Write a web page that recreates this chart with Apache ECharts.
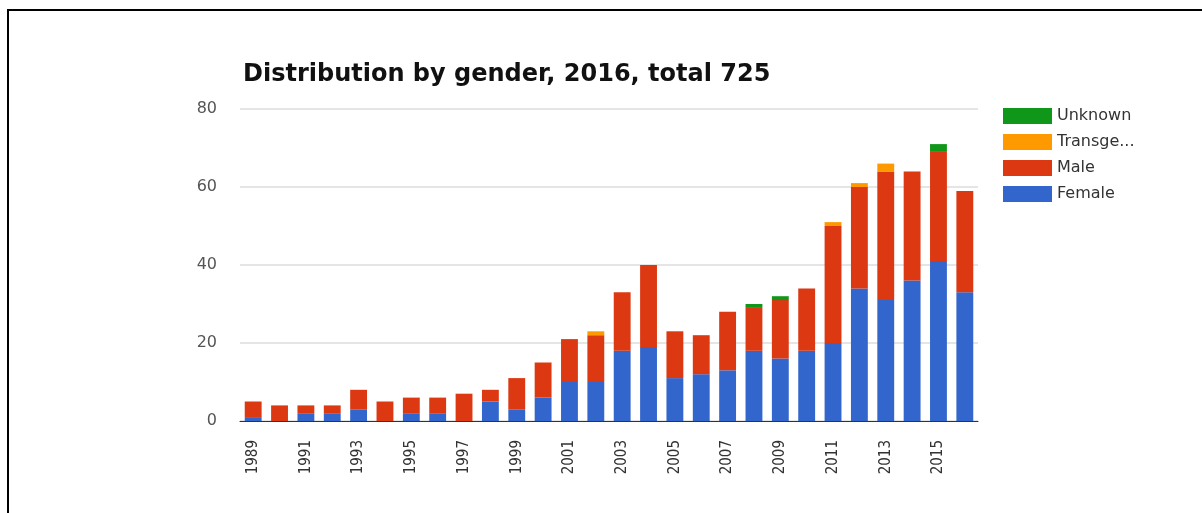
<!DOCTYPE html>
<html lang="en">
<head>
    <meta charset="UTF-8">
    <title>Distribution by gender</title>
    <style>
        html, body { margin: 0; padding: 0; background: #fff; }
        #chart { width: 1202px; height: 513px; }
    </style>
</head>
<body>
    <div id="chart"></div>
    <script src="https://cdn.jsdelivr.net/npm/echarts@6/dist/echarts.min.js"></script>
    <script>
        // years on the x axis
        let years = ['1989', '1990', '1991', '1992', '1993', '1994', '1995', '1996', '1997', '1998',
                     '1999', '2000', '2001', '2002', '2003', '2004', '2005', '2006', '2007', '2008',
                     '2009', '2010', '2011', '2012', '2013', '2014', '2015', '2016'];

        // counts per gender
        let female      = [1, 0, 2, 2, 3, 0, 2, 2, 0, 5, 3, 6, 10, 10, 18, 19, 11, 12, 13, 18, 16, 18, 20, 34, 31, 36, 41, 33];
        let male        = [4, 4, 2, 2, 5, 5, 4, 4, 7, 3, 8, 9, 11, 12, 15, 21, 12, 10, 15, 11, 15, 16, 30, 26, 33, 28, 28, 26];
        let transgender = [0, 0, 0, 0, 0, 0, 0, 0, 0, 0, 0, 0, 0, 1, 0, 0, 0, 0, 0, 0, 0, 0, 1, 1, 2, 0, 0, 0];
        let unknown     = [0, 0, 0, 0, 0, 0, 0, 0, 0, 0, 0, 0, 0, 0, 0, 0, 0, 0, 0, 1, 1, 0, 0, 0, 0, 0, 2, 0];

        let yTicks = [0, 20, 40, 60, 80];

        let myChart = echarts.init(document.getElementById('chart'));

        function bar(name, data, color) {
            return {
                name: name,
                type: 'bar',
                stack: 'total',
                data: data,
                barCategoryGap: '36%',
                itemStyle: { color: color },
                emphasis: { disabled: true }
            };
        }

        let chartOption = {
            animation: false,
            title: {
                text: 'Distribution by gender, 2016, total 725',
                left: 238,
                top: 58,
                textStyle: {
                    fontFamily: 'DejaVu Sans',
                    fontWeight: 'bold',
                    fontSize: 24,
                    color: '#111'
                }
            },
            graphic: [{
                type: 'rect',
                shape: { x: 8, y: 10, width: 1200, height: 520 },
                style: { fill: 'none', stroke: '#000', lineWidth: 2 }
            }],
            legend: {
                orient: 'vertical',
                left: 1003,
                top: 108,
                padding: 0,
                itemWidth: 49,
                itemHeight: 16,
                itemGap: 10,
                icon: 'rect',
                data: ['Unknown', 'Transgender', 'Male', 'Female'],
                formatter: function(n) {
                    return n.length > 8 ? n.slice(0, 7) + '...' : n;
                },
                textStyle: {
                    fontFamily: 'DejaVu Sans',
                    fontSize: 16,
                    color: '#333'
                }
            },
            grid: {
                left: 240,
                right: 224,
                top: 109,
                bottom: 92,
                containLabel: false
            },
            xAxis: {
                type: 'category',
                data: years,
                axisTick: { show: false },
                axisLine: { lineStyle: { color: '#333', width: 1 } },
                axisLabel: {
                    interval: 1,
                    rotate: 90,
                    margin: 19,
                    fontFamily: 'DejaVu Sans Condensed',
                    fontSize: 15,
                    color: '#333'
                }
            },
            yAxis: {
                type: 'value',
                min: yTicks[0],
                max: yTicks[yTicks.length - 1],
                interval: 20,
                axisLine: { show: false },
                axisTick: { show: false },
                splitLine: { lineStyle: { color: '#ddd', width: 1.5 } },
                axisLabel: {
                    margin: 23,
                    fontFamily: 'DejaVu Sans',
                    fontSize: 16,
                    color: '#555'
                }
            },
            series: [
                bar('Female', female, '#3366cc'),
                bar('Male', male, '#dc3912'),
                bar('Transgender', transgender, '#ff9900'),
                bar('Unknown', unknown, '#109618')
            ]
        };

        myChart.setOption(chartOption);
    </script>
</body>
</html>
